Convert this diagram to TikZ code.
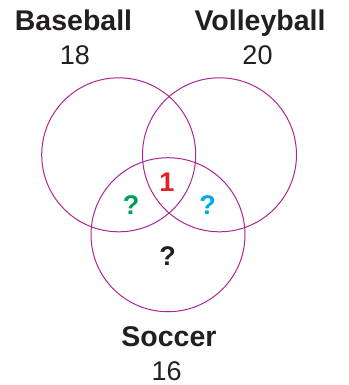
\documentclass[tikz,border=0pt]{standalone}
\usepackage{fontspec}
\setmainfont{Liberation Sans}
\usepackage{xcolor}
\definecolor{vennline}{RGB}{172,38,150}
\definecolor{qgreen}{RGB}{0,160,90}
\definecolor{qblue}{RGB}{0,170,235}
\definecolor{qred}{RGB}{230,30,40}
\definecolor{qblack}{RGB}{35,31,32}

\begin{document}
\begin{tikzpicture}[x=1pt, y=-1pt,
    venn/.style={circle, draw=vennline, line width=1pt, minimum size=154pt, inner sep=0pt},
    setname/.style={anchor=base, font=\fontsize{28.5}{28.5}\selectfont\bfseries, text=qblack, inner sep=0pt},
    setsize/.style={anchor=base, font=\fontsize{27}{27}\selectfont, text=qblack, inner sep=0pt},
    region/.style={anchor=base, font=\fontsize{27}{27}\selectfont\bfseries, inner sep=0pt}]
      \useasboundingbox (0,0) rectangle (348,385);
      % circles
      \node[venn] (base) at (118.7,154.8) {};
      \node[venn] (volley) at (219.5,154.8) {};
      \node[venn] (soccer) at (168,234.7) {};
      % set names and totals
      \node[setname] (basename) at (73.5,30.5) {Baseball};
      \node[setsize] (basesize) at (75,65) {18};
      \node[setname] (volleyname) at (260,30.5) {Volleyball};
      \node[setsize] (volleysize) at (257.5,65) {20};
      \node[setname] (soccername) at (169,346.5) {Soccer};
      \node[setsize] (soccersize) at (166.7,380) {16};
      % regions
      \node[region, text=qred] (all) at (167,191.7) {1};
      \node[region, text=qgreen] (bs) at (131,214) {?};
      \node[region, text=qblue] (vs) at (207.7,214) {?};
      \node[region, text=qblack] (sonly) at (167.5,265.7) {?};
    \end{tikzpicture}
\end{document}
